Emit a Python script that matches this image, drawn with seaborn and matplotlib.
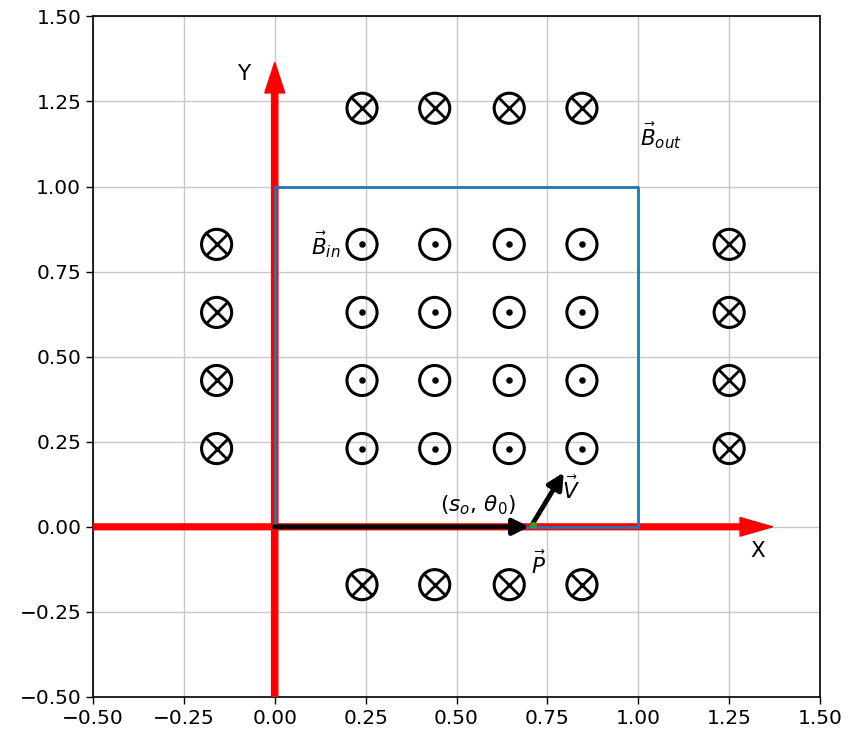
import matplotlib
matplotlib.use("Agg")
import matplotlib.pyplot as plt
import seaborn as sns
import pandas as pd

sns.set_style("whitegrid")
plt.rcParams['font.family'] = ['DejaVu Sans']
plt.rcParams['text.color'] = 'black'
plt.rcParams['axes.unicode_minus'] = True

# Field into the page (circled cross) outside the region
out_x = [0.24, 0.44, 0.645, 0.845, 0.24, 0.44, 0.645, 0.845,
         -0.16, -0.16, -0.16, -0.16, 1.25, 1.25, 1.25, 1.25]
out_y = [1.23, 1.23, 1.23, 1.23, -0.17, -0.17, -0.17, -0.17,
         0.83, 0.63, 0.43, 0.23, 0.83, 0.63, 0.43, 0.23]
# Field out of the page (circled dot) inside the region
in_x = [0.24, 0.44, 0.645, 0.845] * 4
in_y = [0.83] * 4 + [0.63] * 4 + [0.43] * 4 + [0.23] * 4

# Region boundary (unit square)
box_x = [0, 1, 1, 0, 0]
box_y = [0, 0, 1, 1, 0]

ticks = [-0.5, -0.25, 0.0, 0.25, 0.5, 0.75, 1.0, 1.25, 1.5]
tick_labels = [f"{t:.2f}".replace('-', '\u2212') for t in ticks]

fig = plt.figure(figsize=(8.48, 7.37), dpi=100)
ax = fig.add_axes([0.1097, 0.0543, 0.8573, 0.9235])
ax.set_xlim(-0.5, 1.5)
ax.set_ylim(-0.5, 1.5)
ax.set_xticks(ticks)
ax.set_yticks(ticks)
ax.set_xticklabels(tick_labels)
ax.set_yticklabels(tick_labels)
ax.tick_params(labelsize=14.5, length=5, width=1, colors='black', direction='out',
               left=True, bottom=True)
ax.grid(True, color='#c8c8c8', linewidth=1)
for s in ax.spines.values():
    s.set_color('black')
    s.set_linewidth(1.2)

# Coordinate axes arrows
ax.arrow(-0.5, 0, 1.78, 0, width=0.017, head_width=0.055, head_length=0.09,
         color='red', zorder=3)
ax.arrow(0, -0.5, 0, 1.775, width=0.017, head_width=0.055, head_length=0.09,
         color='red', zorder=3)

# Boundary of the region
box = pd.DataFrame({"x": box_x, "y": box_y})
sns.lineplot(data=box, x="x", y="y", sort=False, estimator=None, color='#1f77b4',
             linewidth=2, ax=ax, zorder=4)

# Position vector and velocity
ax.annotate('', xy=(0.70, 0.0), xytext=(0.0, 0.0),
            arrowprops=dict(arrowstyle='-|>', color='black', lw=3.5,
                            mutation_scale=24, shrinkA=0, shrinkB=0), zorder=5)
ax.annotate('', xy=(0.795, 0.16), xytext=(0.71, 0.01),
            arrowprops=dict(arrowstyle='-|>', color='black', lw=3.5,
                            mutation_scale=24, shrinkA=0, shrinkB=0), zorder=5)
ax.plot([0.71], [0.005], 'o', color='#2ca02c', markersize=4, zorder=6)

# Field symbols
mk = dict(s=470, facecolors='none', edgecolors='black', linewidths=2.2, zorder=5)
sns.scatterplot(x=out_x, y=out_y, marker='o', ax=ax, **mk)
sns.scatterplot(x=out_x, y=out_y, marker='x', s=250, color='black', linewidth=2.0,
                ax=ax, zorder=5)
sns.scatterplot(x=in_x, y=in_y, marker='o', ax=ax, **mk)
sns.scatterplot(x=in_x, y=in_y, marker='o', s=22, color='black', linewidth=0,
                ax=ax, zorder=5)

ax.set_xlabel('')
ax.set_ylabel('')

fs = 15.5
ax.text(0.558, 0.065, r'$(s_o,\,\theta_0)$', fontsize=fs, ha='center', va='center')
ax.text(0.815, 0.11, r'$\vec{V}$', fontsize=fs, ha='center', va='center')
ax.text(0.725, -0.11, r'$\vec{P}$', fontsize=fs, ha='center', va='center')
ax.text(0.14, 0.83, r'$\vec{B}_{in}$', fontsize=fs, ha='center', va='center')
ax.text(1.062, 1.15, r'$\vec{B}_{out}$', fontsize=fs, ha='center', va='center')
ax.text(-0.085, 1.33, 'Y', fontsize=fs, ha='center', va='center')
ax.text(1.33, -0.07, 'X', fontsize=fs, ha='center', va='center')

fig.savefig('out.png', dpi=100)
